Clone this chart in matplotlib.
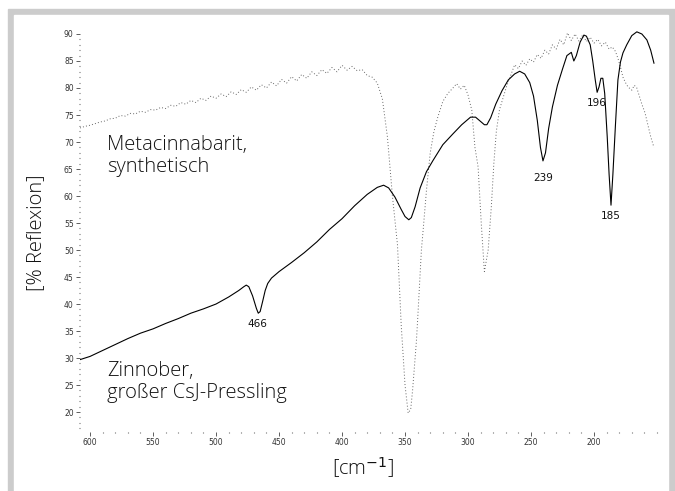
import matplotlib.pyplot as plt
from matplotlib.patches import Rectangle
from matplotlib.ticker import MultipleLocator

# Zinnober, grosser CsJ-Pressling (durchgezogen)
zin_wn = [608, 600, 590, 580, 570, 560, 550, 540, 530, 520, 510, 500, 490, 482, 478, 476,
          474, 471, 468, 466.5, 465, 463, 461, 459, 456, 450, 440, 430, 420, 410, 400, 390,
          380, 372, 367, 363, 358, 353, 350, 347, 345, 342, 338, 333, 328, 320, 312, 305,
          298, 294, 290, 287, 285, 282, 278, 273, 268, 263, 259, 255, 251, 248, 245, 242.5,
          240.5, 238.5, 236, 233, 229, 225, 221.5, 218, 216, 214, 211, 208, 206, 203, 201,
          199, 197.5, 196, 194.5, 193, 191.5, 189.5, 188, 186.5, 185, 183, 181, 179, 177,
          174, 170, 166, 162, 158, 155, 152.4]
zin_r = [29.7, 30.3, 31.4, 32.5, 33.6, 34.6, 35.4, 36.4, 37.3, 38.3, 39.1, 40.0, 41.3, 42.5,
         43.2, 43.5, 43.2, 41.5, 39.2, 38.3, 38.6, 40.5, 42.5, 43.8, 44.8, 46.0, 47.7, 49.5,
         51.5, 53.8, 55.8, 58.2, 60.3, 61.6, 62.0, 61.5, 59.8, 57.5, 56.2, 55.6, 56.0, 58.0,
         61.5, 64.5, 66.5, 69.5, 71.5, 73.2, 74.6, 74.6, 73.8, 73.2, 73.2, 74.5, 77.0, 79.5,
         81.5, 82.6, 83.1, 82.6, 81.0, 78.5, 74.0, 69.0, 66.5, 68.0, 72.5, 76.5, 80.5, 83.5,
         86.0, 86.6, 85.0, 86.0, 88.5, 89.8, 89.6, 88.0, 85.0, 81.5, 79.2, 80.2, 81.8, 81.8,
         79.0, 71.0, 64.0, 58.3, 64.0, 73.0, 81.5, 84.8, 86.5, 88.0, 89.7, 90.4, 90.0, 88.9,
         87.0, 84.6]

# Metacinnabarit, synthetisch (gepunktet)
meta_wn = [608, 604, 600, 596, 592, 588, 584, 580, 576, 572, 568, 564, 560, 556, 552, 548,
           544, 540, 536, 532, 528, 524, 520, 516, 512, 508, 504, 500, 496, 492, 488, 484,
           480, 476, 472, 468, 464, 460, 456, 452, 448, 444, 440, 436, 432, 428, 424, 420,
           416, 412, 408, 404, 400, 396, 392, 388, 384, 380, 376, 372, 368, 364, 360, 356,
           353, 350, 347.5, 345.5, 344, 341, 340, 337, 335.5, 333, 330, 327, 324, 320, 316,
           312, 309, 306, 303, 300, 297, 294.5, 292, 289.5, 287, 284, 281.5, 279.5, 277.5,
           275, 272, 269, 266, 263, 260, 257, 254, 251, 248, 245, 242, 239, 236, 233, 230,
           227, 224, 221, 218, 215, 212, 209, 206, 203, 200, 197, 194, 191, 188, 185.5, 183,
           181, 179, 177, 175, 173, 170, 168, 166, 164, 162, 159.5, 157, 155, 152.4]
meta_r = [72.6, 72.9, 73.1, 73.4, 73.7, 73.9, 74.3, 74.4, 74.9, 74.8, 75.3, 75.2, 75.7, 75.5,
          76.0, 75.9, 76.4, 76.2, 76.8, 76.6, 77.3, 77.0, 77.7, 77.3, 78.1, 77.7, 78.5, 78.1,
          78.9, 78.4, 79.3, 78.8, 79.7, 79.2, 80.2, 79.6, 80.6, 80.0, 81.1, 80.4, 81.6, 80.9,
          82.1, 81.3, 82.5, 81.8, 83.0, 82.3, 83.4, 82.7, 83.8, 83.0, 84.2, 83.3, 84.0, 83.2,
          83.4, 82.3, 82.0, 80.9, 78.0, 71.0, 60.0, 51.0, 36.0, 25.0, 19.8, 20.5, 24.0, 33.0,
          37.0, 50.0, 54.0, 61.0, 68.0, 72.0, 74.6, 77.5, 79.0, 80.0, 80.8, 79.8, 80.5, 78.7,
          75.9, 69.0, 65.4, 55.0, 46.0, 50.0, 58.0, 66.0, 72.0, 76.0, 78.3, 80.6, 82.4, 84.3,
          83.6, 85.0, 84.2, 85.4, 84.8, 86.2, 85.5, 87.0, 86.3, 88.0, 87.2, 89.0, 88.0, 90.2,
          88.8, 90.0, 88.7, 89.8, 88.6, 89.4, 88.3, 89.0, 87.8, 88.5, 87.2, 87.6, 86.8, 85.5,
          83.9, 82.0, 81.0, 80.2, 79.6, 80.5, 80.0, 78.5, 77.0, 75.4, 73.0, 71.0, 69.0]

# Bandenlagen
peak_txt = ["466", "239", "196", "185"]
peak_x = [467.5, 240.5, 197.6, 186.5]
peak_y = [36.3, 63.3, 77.2, 56.3]

fig = plt.figure(figsize=(6.75, 4.91), dpi=100)
# grauer Rahmen
fig.patches.append(Rectangle((8 / 675, 0), 667 / 675, 482 / 491, transform=fig.transFigure,
                             color="#cccccc", zorder=-3))
fig.patches.append(Rectangle((14 / 675, 0), 654 / 675, 476 / 491, transform=fig.transFigure,
                             color="white", zorder=-2))

ax = fig.add_axes([80 / 675, 1 - 432 / 491, 580 / 675, 402 / 491])
ax.patch.set_alpha(0)

ax.plot(meta_wn, meta_r, color="#666666", lw=0.7, linestyle=(0, (1, 2.2)))
ax.plot(zin_wn, zin_r, color="black", lw=0.8)

for t, x, y in zip(peak_txt, peak_x, peak_y):
    ax.text(x, y, t, fontsize=7.5, ha="center", va="center", color="#111111")

txtfont = dict(family=["Open Sans", "DejaVu Sans"], fontweight="light", fontsize=14.5,
               color="#111111")
ax.text(586.5, 71.3, "Metacinnabarit,\nsynthetisch", ha="left", va="top",
        linespacing=1.15, **txtfont)
ax.text(586.5, 29.5, "Zinnober,\ngroßer CsJ-Pressling", ha="left", va="top",
        linespacing=1.15, **txtfont)

ax.set_xlim(608, 147.6)
ax.set_ylim(16.3, 90.74)
for s in ax.spines.values():
    s.set_visible(False)

ax.xaxis.set_minor_locator(MultipleLocator(10))
ax.yaxis.set_minor_locator(MultipleLocator(1))
ax.set_yticks(range(20, 91, 5))
ax.set_xticks(range(600, 199, -50))
ax.tick_params(which="major", length=3, width=0.6, color="#444444", labelsize=5.5,
               labelcolor="#333333", pad=1.5)
ax.tick_params(which="minor", length=1, width=0.8, color="#666666")

fig.text(36 / 675, 1 - 233 / 491, "[% Reflexion]", rotation=90, ha="center", va="center",
         **txtfont)
fig.text(363 / 675, 1 - 468 / 491, "[cm$^{-1}$]", ha="center", va="center", **txtfont)

fig.savefig("out.png", dpi=100)
